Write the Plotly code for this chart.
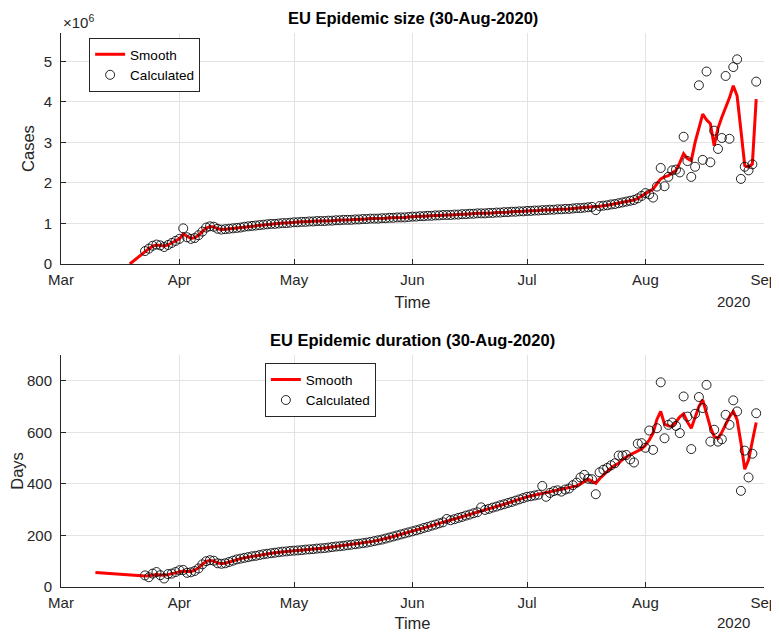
import pandas as pd
import plotly.graph_objects as go

# ---------------- data ----------------
calc_start = "2020-03-23"
smooth_size_start = "2020-03-19"
smooth_dur_start = "2020-03-10"

# Epidemic size, millions of cases (axis shows x10^6)
size_calc = [
    0.32, 0.38, 0.45, 0.48, 0.46, 0.42, 0.47, 0.52, 0.57,
    0.62, 0.88, 0.66, 0.62, 0.64, 0.71, 0.80, 0.90, 0.93, 0.92, 0.87, 0.85, 0.86, 0.87, 0.88,
    0.89, 0.90, 0.92, 0.93, 0.94, 0.95, 0.96, 0.97, 0.98, 0.99, 0.99, 1.00, 1.01, 1.01, 1.02,
    1.03, 1.03, 1.04, 1.04, 1.05, 1.05, 1.06, 1.06, 1.06, 1.07, 1.07, 1.08, 1.08, 1.09, 1.09,
    1.09, 1.10, 1.10, 1.11, 1.11, 1.12, 1.12, 1.12, 1.13, 1.13, 1.14, 1.14, 1.15, 1.15, 1.15, 1.16,
    1.17, 1.17, 1.18, 1.18, 1.19, 1.19, 1.20, 1.20, 1.21, 1.21, 1.21, 1.22, 1.22, 1.23, 1.23,
    1.24, 1.24, 1.25, 1.25, 1.25, 1.26, 1.26, 1.27, 1.27, 1.28, 1.28, 1.29, 1.29, 1.30, 1.30,
    1.31, 1.31, 1.32, 1.32, 1.33, 1.33, 1.34, 1.34, 1.35, 1.35, 1.36, 1.36, 1.37, 1.38, 1.38,
    1.39, 1.40, 1.41, 1.33, 1.43, 1.44, 1.45, 1.47, 1.48, 1.50, 1.52, 1.54, 1.56, 1.58, 1.62, 1.68,
    1.75, 1.72, 1.64, 1.91, 2.37, 1.92, 2.15, 2.31, 2.33, 2.26, 3.14, 2.54, 2.15, 2.40, 4.41,
    2.57, 4.75, 2.51, 3.29, 2.84, 3.11, 4.64, 3.09, 4.86, 5.05, 2.10, 2.40, 2.31, 2.46, 4.50,
]
size_smooth = [
    0.00, 0.08, 0.16, 0.24,
    0.32, 0.38, 0.44, 0.47, 0.46, 0.44, 0.47, 0.52, 0.57,
    0.62, 0.74, 0.68, 0.63, 0.65, 0.71, 0.80, 0.89, 0.92, 0.92, 0.87, 0.85, 0.86, 0.87, 0.88,
    0.89, 0.90, 0.92, 0.93, 0.94, 0.95, 0.96, 0.97, 0.98, 0.99, 0.99, 1.00, 1.01, 1.01, 1.02,
    1.03, 1.03, 1.04, 1.04, 1.05, 1.05, 1.06, 1.06, 1.06, 1.07, 1.07, 1.08, 1.08, 1.09, 1.09,
    1.09, 1.10, 1.10, 1.11, 1.11, 1.12, 1.12, 1.12, 1.13, 1.13, 1.14, 1.14, 1.15, 1.15, 1.15, 1.16,
    1.17, 1.17, 1.18, 1.18, 1.19, 1.19, 1.20, 1.20, 1.21, 1.21, 1.21, 1.22, 1.22, 1.23, 1.23,
    1.24, 1.24, 1.25, 1.25, 1.25, 1.26, 1.26, 1.27, 1.27, 1.28, 1.28, 1.29, 1.29, 1.30, 1.30,
    1.31, 1.31, 1.32, 1.32, 1.33, 1.33, 1.34, 1.34, 1.35, 1.35, 1.36, 1.36, 1.37, 1.38, 1.38,
    1.39, 1.40, 1.41, 1.41, 1.43, 1.44, 1.45, 1.47, 1.48, 1.50, 1.52, 1.54, 1.56, 1.58, 1.62, 1.68,
    1.74, 1.78, 1.85, 1.98, 2.10, 2.15, 2.18, 2.25, 2.31, 2.50, 2.72, 2.60, 2.55, 3.00, 3.35,
    3.70, 3.56, 3.46, 2.92, 3.35, 3.62, 3.85, 4.10, 4.40, 4.15, 3.30, 2.43, 2.39, 2.47, 4.07,
]

# Epidemic duration, days
dur_calc = [
    45, 38, 52, 58, 46, 33, 50, 52, 58,
    65, 66, 55, 57, 62, 72, 88, 100, 104, 102, 92, 90, 92, 97, 102,
    107, 110, 113, 116, 119, 121, 124, 127, 129, 131, 133, 135, 137, 138, 140,
    141, 142, 143, 145, 146, 147, 149, 150, 151, 153, 155, 157, 158, 160, 162,
    164, 166, 168, 170, 172, 175, 178, 181, 184, 188, 192, 196, 200, 204, 208, 212,
    216, 220, 224, 229, 233, 238, 242, 247, 251, 264, 259, 263, 268, 272, 277,
    281, 286, 290, 309, 299, 303, 308, 312, 317, 321, 326, 330, 335, 340, 345,
    350, 352, 355, 358, 392, 350, 365, 372, 375, 370, 378, 382, 395, 405, 425,
    435, 420, 418, 360, 445, 455, 462, 472, 480, 510, 510, 512, 495, 483, 556, 558,
    540, 607, 532, 616, 794, 577, 629, 638, 625, 597, 739, 661, 535, 672, 737,
    694, 784, 564, 610, 564, 573, 668, 629, 724, 681, 373, 529, 425, 517, 674,
]
dur_smooth = [
    56, 55, 54, 52, 51, 50, 48, 47, 46, 45, 44, 43, 43,
    43, 44, 46, 48, 47, 46, 48, 52, 56,
    60, 62, 60, 60, 65, 74, 88, 99, 103, 101, 93, 91, 92, 97, 102,
    107, 110, 113, 116, 119, 121, 124, 127, 129, 131, 133, 135, 137, 138, 140,
    141, 142, 143, 145, 146, 147, 149, 150, 151, 153, 155, 157, 158, 160, 162,
    164, 166, 168, 170, 172, 175, 178, 181, 184, 188, 192, 196, 200, 204, 208, 212,
    216, 220, 224, 229, 233, 238, 242, 247, 251, 255, 259, 263, 268, 272, 277,
    281, 286, 290, 294, 299, 303, 308, 312, 317, 321, 326, 330, 335, 340, 345,
    350, 353, 356, 359, 362, 365, 368, 372, 375, 378, 381, 385, 388, 392, 400,
    410, 418, 410, 402, 420, 435, 450, 462, 472, 480, 495, 505, 513, 520, 528, 535,
    550, 570, 597, 650, 681, 632, 625, 623, 640, 660, 672, 640, 616, 660, 700,
    726, 672, 620, 584, 577, 600, 630, 660, 681, 649, 560, 457, 493, 565, 638,
]

month_ticks = ["2020-03-01", "2020-04-01", "2020-05-01", "2020-06-01",
               "2020-07-01", "2020-08-01", "2020-09-01"]
month_labels = ["Mar", "Apr", "May", "Jun", "Jul", "Aug", "Sep"]
size_ticks = [0, 1, 2, 3, 4, 5]
dur_ticks = [0, 200, 400, 600, 800]

# ---------------- figure ----------------
calc_dates = pd.date_range(calc_start, periods=len(size_calc), freq="D")
size_sm_dates = pd.date_range(smooth_size_start, periods=len(size_smooth), freq="D")
dur_calc_dates = pd.date_range(calc_start, periods=len(dur_calc), freq="D")
dur_sm_dates = pd.date_range(smooth_dur_start, periods=len(dur_smooth), freq="D")

FONT = "Liberation Sans, Arial, Helvetica, sans-serif"
AX = "#262626"
GRID = "#e3e3e3"
RED = "#ff0000"
MK = dict(symbol="circle-open", size=9, color="rgba(0,0,0,0.85)", line=dict(width=1))

fig = go.Figure()
fig.add_trace(go.Scatter(x=size_sm_dates, y=size_smooth, mode="lines", name="Smooth",
                         line=dict(color=RED, width=3), xaxis="x", yaxis="y", legend="legend"))
fig.add_trace(go.Scatter(x=calc_dates, y=size_calc, mode="markers", name="Calculated",
                         marker=MK, xaxis="x", yaxis="y", legend="legend"))
fig.add_trace(go.Scatter(x=dur_sm_dates, y=dur_smooth, mode="lines", name="Smooth",
                         line=dict(color=RED, width=3), xaxis="x2", yaxis="y2", legend="legend2"))
fig.add_trace(go.Scatter(x=dur_calc_dates, y=dur_calc, mode="markers", name="Calculated",
                         marker=MK, xaxis="x2", yaxis="y2", legend="legend2"))

xcommon = dict(type="date", range=["2020-03-01", "2020-09-01 01:00"], tickvals=month_ticks,
               ticktext=month_labels, showgrid=True, gridcolor=GRID, gridwidth=1,
               showline=True, linecolor=AX, linewidth=1, ticks="inside", ticklen=5,
               tickcolor=AX, tickfont=dict(family=FONT, size=15, color=AX),
               ticklabelstandoff=2, zeroline=False, automargin=False,
               title=dict(text="Time", font=dict(family=FONT, size=16.5, color=AX), standoff=9))
ycommon = dict(showgrid=True, gridcolor=GRID, gridwidth=1, showline=True, linecolor=AX,
               linewidth=1, ticks="inside", ticklen=5, tickcolor=AX, ticklabelstandoff=5,
               tickfont=dict(family=FONT, size=15, color=AX), zeroline=False, automargin=False)

# page body has an 8px margin, so the figure is sized/offset to compensate
fig.update_layout(
    width=771, height=624,
    margin=dict(l=53, r=15, t=25, b=45),
    paper_bgcolor="white", plot_bgcolor="white",
    font=dict(family=FONT, color=AX),
    xaxis=dict(xcommon, domain=[0, 1], anchor="y"),
    yaxis=dict(ycommon, domain=[0.583, 1], range=[0, 5.7], tickvals=size_ticks,
               ticktext=[str(v) for v in size_ticks],
               title=dict(text="Cases", font=dict(family=FONT, size=16.5, color=AX), standoff=4)),
    xaxis2=dict(xcommon, domain=[0, 1], anchor="y2"),
    yaxis2=dict(ycommon, domain=[0, 0.4188], range=[0, 900], tickvals=dur_ticks,
                title=dict(text="Days", font=dict(family=FONT, size=16.5, color=AX), standoff=10)),
    legend=dict(x=0.04, y=0.991, xanchor="left", yanchor="top", bgcolor="white",
                bordercolor="#262626", borderwidth=1, font=dict(family=FONT, size=13.5, color="#000"),
                tracegroupgap=0, itemwidth=30),
    legend2=dict(x=0.29, y=0.404, xanchor="left", yanchor="top", bgcolor="white",
                 bordercolor="#262626", borderwidth=1, font=dict(family=FONT, size=13.5, color="#000"),
                 tracegroupgap=0, itemwidth=30),
    showlegend=True,
    annotations=[
        dict(text="<b>EU Epidemic size (30-Aug-2020)</b>", xref="paper", yref="paper",
             x=0.5, y=1, yshift=15, xanchor="center", yanchor="middle", showarrow=False,
             font=dict(family=FONT, size=16.5, color="#000")),
        dict(text="<b>EU Epidemic duration (30-Aug-2020)</b>", xref="paper", yref="paper",
             x=0.5, y=0.4188, yshift=15, xanchor="center", yanchor="middle", showarrow=False,
             font=dict(family=FONT, size=16.5, color="#000")),
        dict(text="×10<sup>6</sup>", xref="paper", yref="paper", x=0, y=1, xshift=0, yshift=12,
             xanchor="left", yanchor="middle", showarrow=False,
             font=dict(family=FONT, size=15, color=AX)),
        dict(text="2020", xref="paper", yref="paper", x=0.957, y=0.583, yshift=-37,
             xanchor="center", yanchor="middle", showarrow=False,
             font=dict(family=FONT, size=15, color=AX)),
        dict(text="2020", xref="paper", yref="paper", x=0.957, y=0, yshift=-35,
             xanchor="center", yanchor="middle", showarrow=False,
             font=dict(family=FONT, size=15, color=AX)),
    ],
)

fig.write_html("out.html")
